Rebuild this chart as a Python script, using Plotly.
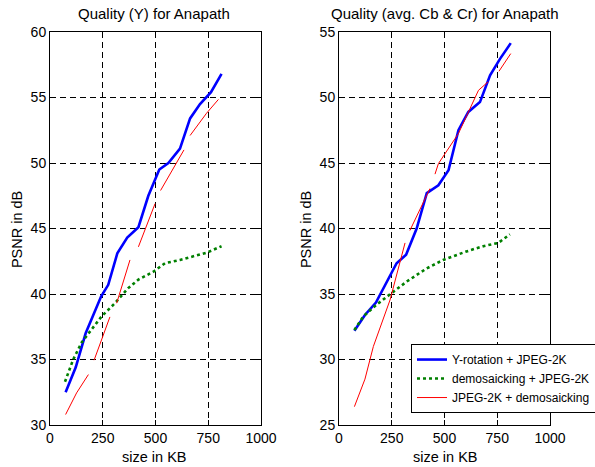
import plotly.graph_objects as go

# ---------------- data ----------------
# Left panel: Quality (Y)
y_rot_x_L = [74, 122, 169, 242, 276, 319, 366, 419, 466, 518, 561, 616, 664, 711, 763, 813]
y_rot_y_L = [32.5, 34.4, 37.0, 39.8, 40.7, 43.1, 44.3, 45.1, 47.5, 49.5, 50.0, 51.1, 53.4, 54.5, 55.4, 56.8]

demo_x_L = [71, 110, 150, 245, 308, 371, 419, 490, 545, 616, 742, 813]
demo_y_L = [33.3, 35.0, 36.3, 38.3, 39.3, 40.45, 41.1, 41.7, 42.35, 42.6, 43.15, 43.65]

# red curve is drawn as separate pieces (None = break)
jd_x_L = [74, 126, 182, None, 209, 284, None, 316, 379, None, 419, 498, None, 524, 635, None, 664, 742, 798]
jd_y_L = [30.8, 32.45, 33.85, None, 34.95, 38.25, None, 39.3, 42.6, None, 43.6, 46.9, None, 47.9, 51.0, None, 52.1, 53.8, 54.85]

# Right panel: Quality (avg. Cb & Cr)
y_rot_x_R = [73, 123, 175, 210, 273, 318, 368, 416, 471, 519, 566, 613, 668, 716, 763, 814]
y_rot_y_R = [32.2, 33.4, 34.35, 35.45, 37.35, 38.0, 40.0, 42.7, 43.3, 44.45, 47.5, 48.9, 49.65, 51.7, 52.95, 54.15]

demo_x_R = [73, 116, 179, 242, 321, 415, 494, 604, 684, 755, 810]
demo_y_R = [32.25, 33.3, 34.2, 34.95, 35.95, 36.95, 37.6, 38.25, 38.65, 38.9, 39.55]

jd_x_R = [73, 123, 163, None, 163, 242, 313, None, 336, 431, None, 455, 471, 566, 661, 707, None, 758, 814]
jd_y_R = [26.4, 28.5, 31.0, None, 31.0, 34.55, 38.9, None, 39.85, 43.05, None, 44.15, 44.95, 47.25, 50.55, 51.2, None, 52.0, 53.35]

x_ticks = [0, 250, 500, 750, 1000]
y_ticks_L = [30, 35, 40, 45, 50, 55, 60]
y_ticks_R = [25, 30, 35, 40, 45, 50, 55]

names = ["Y-rotation + JPEG-2K", "demosaicking + JPEG-2K", "JPEG-2K + demosaicking"]
titles = ["Quality (Y) for Anapath", "Quality (avg. Cb & Cr) for Anapath"]

# ---------------- figure ----------------
FONT = "Liberation Sans, Arial, sans-serif"
fig = go.Figure()

styles = [
    dict(color="#0000ff", width=2.6, dash="solid"),
    dict(color="#008000", width=2.6, dash="dot"),
    dict(color="#ff0000", width=1, dash="solid"),
]

panels = [
    ("x", "y", [(y_rot_x_L, y_rot_y_L), (demo_x_L, demo_y_L), (jd_x_L, jd_y_L)], False),
    ("x2", "y2", [(y_rot_x_R, y_rot_y_R), (demo_x_R, demo_y_R), (jd_x_R, jd_y_R)], True),
]
for xa, ya, series, show in panels:
    for (xs, ys), nm, st in zip(series, names, styles):
        fig.add_trace(go.Scatter(x=xs, y=ys, mode="lines", name=nm, line=st,
                                 connectgaps=False, showlegend=show,
                                 xaxis=xa, yaxis=ya))

axis_common = dict(
    showline=True, linecolor="black", linewidth=1, mirror="ticks",
    ticks="inside", ticklen=5, tickcolor="black", tickwidth=1,
    showgrid=True, gridcolor="black", gridwidth=1, griddash="6px,4px",
    zeroline=False, automargin=False,
    tickfont=dict(family=FONT, size=14, color="black"),
)

fig.update_layout(
    width=595, height=467,
    margin=dict(l=50, r=45, t=32, b=41.5, autoexpand=False),
    paper_bgcolor="white", plot_bgcolor="white",
    font=dict(family=FONT, size=12, color="black"),
    xaxis=dict(domain=[0, 0.422], range=[0, 1000], tickvals=x_ticks, anchor="y", **axis_common),
    yaxis=dict(domain=[0, 1], range=[30, 60], tickvals=y_ticks_L, anchor="x", **axis_common),
    xaxis2=dict(domain=[0.578, 1], range=[0, 1000], tickvals=x_ticks, anchor="y2", **axis_common),
    yaxis2=dict(domain=[0, 1], range=[25, 55], tickvals=y_ticks_R, anchor="x2", **axis_common),
    legend=dict(x=0.722, y=0.206, xanchor="left", yanchor="top",
                bgcolor="white", bordercolor="black", borderwidth=1,
                font=dict(family=FONT, size=12, color="black"),
                tracegroupgap=0, itemwidth=30),
    showlegend=True,
)

ann = []
for cx, t in [(0.208, titles[0]), (0.789, titles[1])]:
    ann.append(dict(text=t, x=cx, y=1.047, xref="paper", yref="paper",
                    xanchor="center", yanchor="middle", showarrow=False,
                    font=dict(family=FONT, size=15, color="black")))
    ann.append(dict(text="size in KB", x=cx, y=-0.082, xref="paper", yref="paper",
                    xanchor="center", yanchor="middle", showarrow=False,
                    font=dict(family=FONT, size=14.5, color="black")))
for cx in [-0.066, 0.512]:
    ann.append(dict(text="PSNR in dB", x=cx, y=0.496, xref="paper", yref="paper",
                    xanchor="center", yanchor="middle", textangle=-90, showarrow=False,
                    font=dict(family=FONT, size=14.5, color="black")))
fig.update_layout(annotations=ann)

fig.write_html("out.html", config={"displayModeBar": False},
               post_script="document.body.style.margin='0';document.body.style.padding='0';")
